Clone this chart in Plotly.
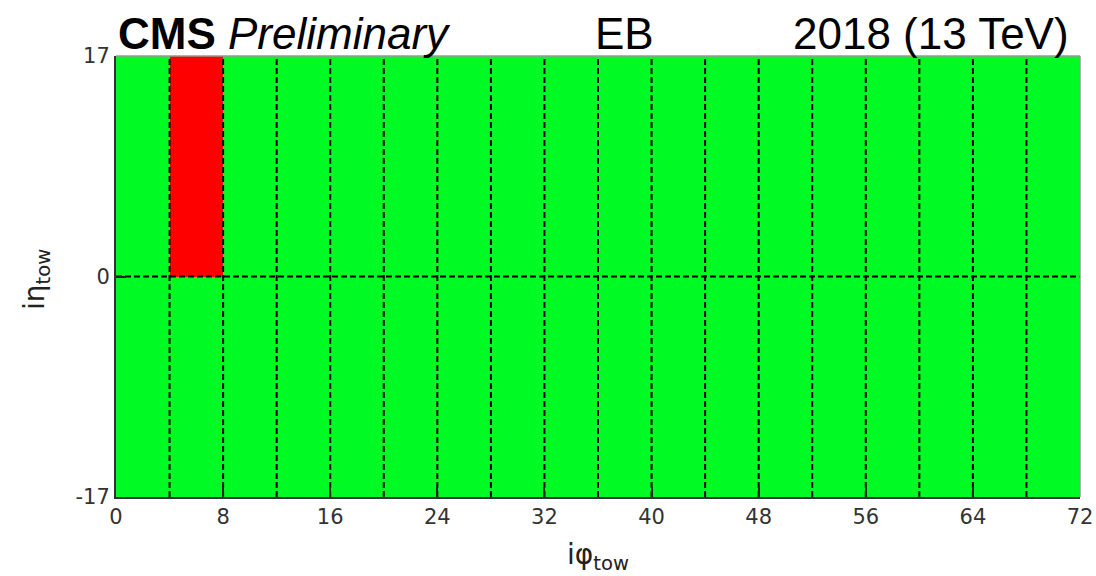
import plotly.graph_objects as go

# Trigger-tower bin edges (iphi along x, ieta along y)
iphi_edges = list(range(0, 73, 4))
ieta_edges = [-17, 0, 17]

# Tower status per (ieta row, iphi column): 0 = good, 1 = masked/bad
status_minus = [0] * 18
status_plus = [0, 1] + [0] * 16
status = [status_minus, status_plus]

x_ticks = list(range(0, 73, 8))
y_ticks = [-17, 0, 17]

GREEN = "rgb(0,250,36)"
RED = "rgb(255,0,0)"

fig = go.Figure()

fig.add_trace(go.Heatmap(
    x=iphi_edges,
    y=ieta_edges,
    z=status,
    zmin=0, zmax=1,
    colorscale=[[0, GREEN], [0.5, GREEN], [0.5, RED], [1, RED]],
    showscale=False,
    hoverinfo="skip",
))

# Dashed supermodule boundaries drawn over the cells
gx, gy = [], []
for xe in iphi_edges[1:-1]:
    gx += [xe, xe, None]
    gy += [ieta_edges[0], ieta_edges[-1], None]
for ye in ieta_edges[1:-1]:
    gx += [iphi_edges[0], iphi_edges[-1], None]
    gy += [ye, ye, None]
fig.add_trace(go.Scatter(
    x=gx, y=gy, mode="lines",
    line=dict(color="black", width=2, dash="6px,3px"),
    hoverinfo="skip", showlegend=False,
))

tick_font = dict(family="DejaVu Sans", size=21, color="#333333")

fig.update_xaxes(
    range=[iphi_edges[0], iphi_edges[-1]],
    tickvals=x_ticks, ticktext=[str(v) for v in x_ticks],
    ticks="inside", ticklen=10, tickwidth=2, tickcolor="#222222",
    showgrid=False, zeroline=False, automargin=False,
    showline=True, linecolor="#333333", linewidth=2,
    tickfont=tick_font, layer="above traces",
)
fig.update_yaxes(
    range=[ieta_edges[0], ieta_edges[-1]],
    tickvals=y_ticks, ticktext=[str(v) for v in y_ticks],
    ticks="inside", ticklen=10, tickwidth=2, tickcolor="#222222",
    showgrid=False, zeroline=False, automargin=False,
    showline=True, linecolor="#333333", linewidth=2,
    tickfont=tick_font, layer="above traces",
)

# Thin grey top and right frame edges
fig.add_shape(type="line", xref="x domain", yref="y domain",
              x0=0, x1=1, y0=1, y1=1, line=dict(color="#999999", width=1.5))
fig.add_shape(type="line", xref="x domain", yref="y domain",
              x0=1, x1=1, y0=0, y1=1, line=dict(color="#999999", width=1.5))

head_font = dict(family="Liberation Sans, Arial", size=44, color="black")
head_y = 1.05
fig.add_annotation(text="<b>CMS</b> <i>Preliminary</i>", xref="paper", yref="paper",
                   x=0.0, y=head_y, xanchor="left", yanchor="middle",
                   showarrow=False, font=head_font)
fig.add_annotation(text="EB", xref="paper", yref="paper",
                   x=0.528, y=head_y, xanchor="center", yanchor="middle",
                   showarrow=False, font=head_font)
fig.add_annotation(text="2018 (13 TeV)", xref="paper", yref="paper",
                   x=0.9907, y=head_y, xanchor="right", yanchor="middle",
                   showarrow=False, font=head_font)

label_font = dict(family="DejaVu Sans", size=28, color="#222222")
fig.add_annotation(text="iφ<sub>tow</sub>", xref="paper", yref="paper",
                   x=(598 - 116) / 964, y=-(556 - 497) / 441,
                   xanchor="center", yanchor="middle",
                   showarrow=False, font=label_font)
fig.add_annotation(text="iη<sub>tow</sub>", xref="paper", yref="paper",
                   x=-(116 - 36) / 964, y=(497 - 280) / 441,
                   xanchor="center", yanchor="middle", textangle=-90,
                   showarrow=False, font=label_font)

fig.update_layout(
    width=1096, height=576,
    margin=dict(l=116, r=16, t=56, b=79),
    paper_bgcolor="white", plot_bgcolor="white",
    showlegend=False,
)

fig.write_html("out.html")
